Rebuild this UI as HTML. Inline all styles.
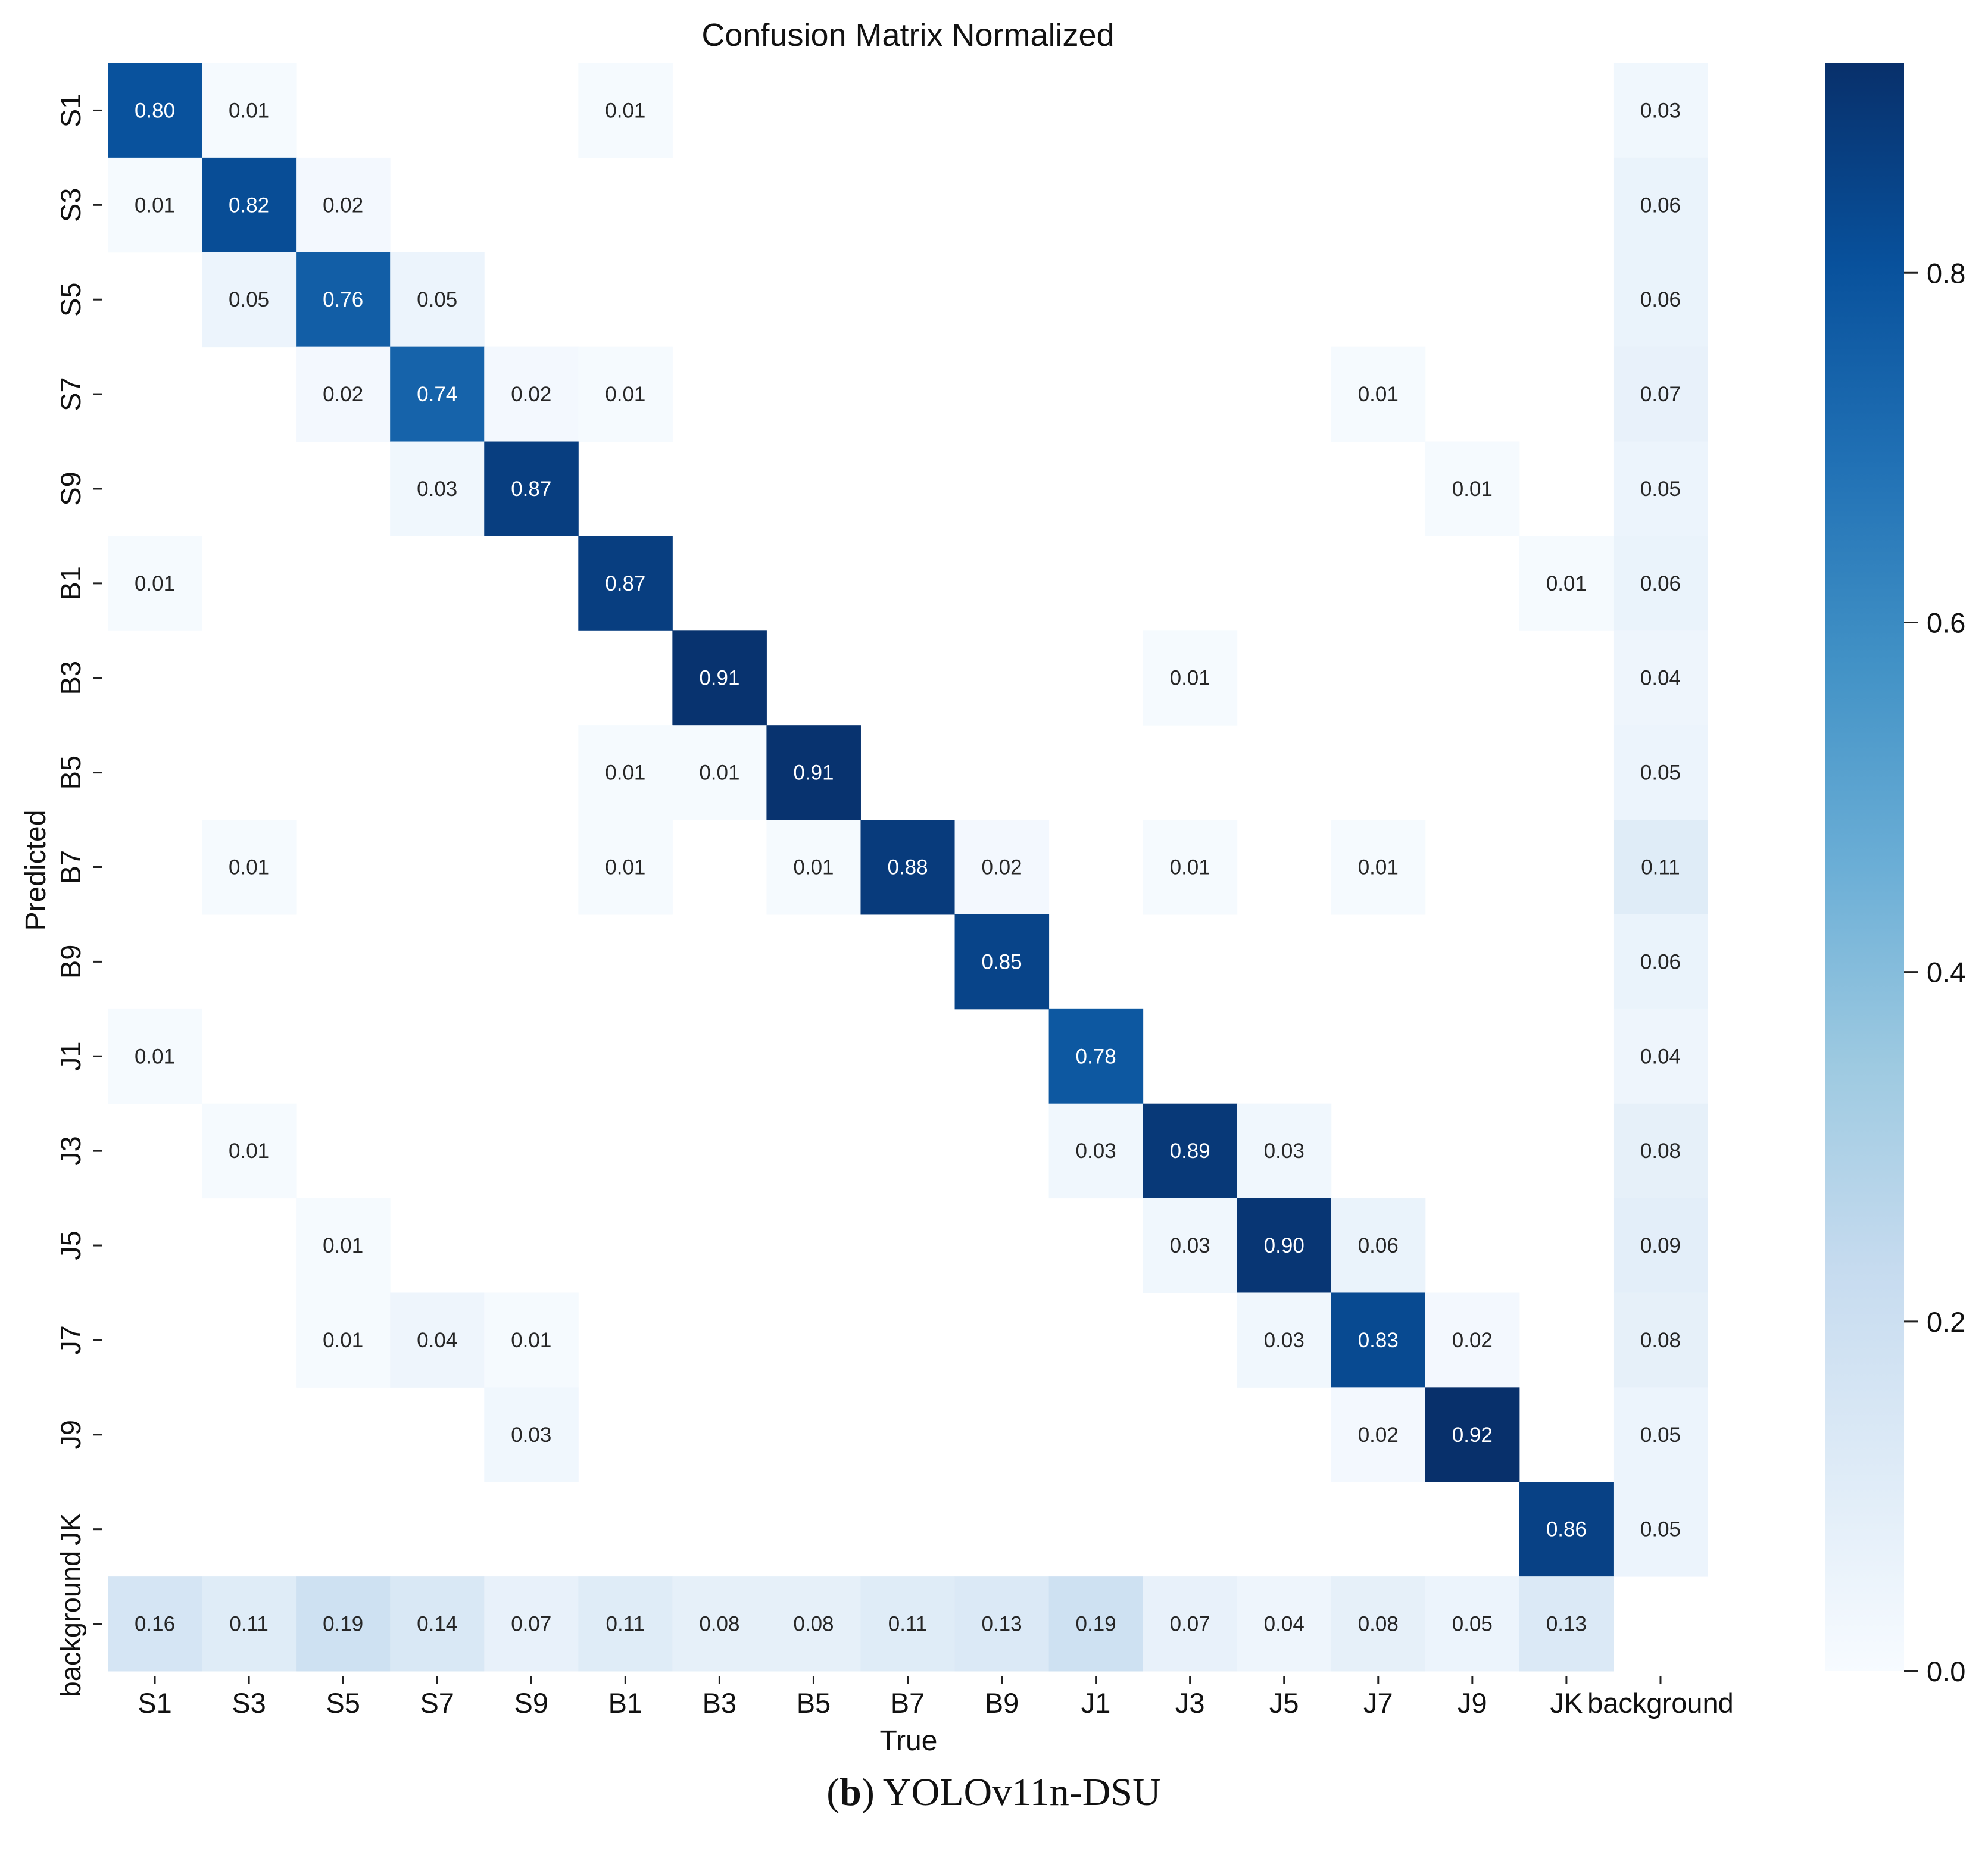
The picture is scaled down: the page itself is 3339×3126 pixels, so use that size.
<!DOCTYPE html>
<html><head><meta charset="utf-8"><style>
html,body{margin:0;padding:0;background:#fff;}
svg{display:block;}
</style></head><body>
<svg id="chart" xmlns="http://www.w3.org/2000/svg" width="3339" height="3126" viewBox="0 0 3339 3126" font-family="'Liberation Sans', Arial, sans-serif">
<rect width="3339" height="3126" fill="#fff"/>
<text x="1525" y="77" font-size="54" text-anchor="middle" fill="#111">Confusion Matrix Normalized</text>
<g id="cells"></g>
<g id="axes"></g>
<g id="cbar"></g>
<text x="1526" y="2940" font-size="48" text-anchor="middle" fill="#111">True</text>
<text transform="translate(76,1462) rotate(-90)" font-size="48" text-anchor="middle" fill="#111">Predicted</text>
<text x="1669" y="3032" font-size="66" text-anchor="middle" font-family="'Liberation Serif', serif" fill="#111">(<tspan font-weight="bold">b</tspan>) YOLOv11n-DSU</text>
</svg>
<script>
const labels = ["S1","S3","S5","S7","S9","B1","B3","B5","B7","B9","J1","J3","J5","J7","J9","JK","background"];
const rowS1 = [0.80,0.01,0,0,0,0.01,0,0,0,0,0,0,0,0,0,0,0.03];
const rowS3 = [0.01,0.82,0.02,0,0,0,0,0,0,0,0,0,0,0,0,0,0.06];
const rowS5 = [0,0.05,0.76,0.05,0,0,0,0,0,0,0,0,0,0,0,0,0.06];
const rowS7 = [0,0,0.02,0.74,0.02,0.01,0,0,0,0,0,0,0,0.01,0,0,0.07];
const rowS9 = [0,0,0,0.03,0.87,0,0,0,0,0,0,0,0,0,0.01,0,0.05];
const rowB1 = [0.01,0,0,0,0,0.87,0,0,0,0,0,0,0,0,0,0.01,0.06];
const rowB3 = [0,0,0,0,0,0,0.91,0,0,0,0,0.01,0,0,0,0,0.04];
const rowB5 = [0,0,0,0,0,0.01,0.01,0.91,0,0,0,0,0,0,0,0,0.05];
const rowB7 = [0,0.01,0,0,0,0.01,0,0.01,0.88,0.02,0,0.01,0,0.01,0,0,0.11];
const rowB9 = [0,0,0,0,0,0,0,0,0,0.85,0,0,0,0,0,0,0.06];
const rowJ1 = [0.01,0,0,0,0,0,0,0,0,0,0.78,0,0,0,0,0,0.04];
const rowJ3 = [0,0.01,0,0,0,0,0,0,0,0,0.03,0.89,0.03,0,0,0,0.08];
const rowJ5 = [0,0,0.01,0,0,0,0,0,0,0,0,0.03,0.90,0.06,0,0,0.09];
const rowJ7 = [0,0,0.01,0.04,0.01,0,0,0,0,0,0,0,0.03,0.83,0.02,0,0.08];
const rowJ9 = [0,0,0,0,0.03,0,0,0,0,0,0,0,0,0.02,0.92,0,0.05];
const rowJK = [0,0,0,0,0,0,0,0,0,0,0,0,0,0,0,0.86,0.05];
const rowBg = [0.16,0.11,0.19,0.14,0.07,0.11,0.08,0.08,0.11,0.13,0.19,0.07,0.04,0.08,0.05,0.13,0];
const matrix = [rowS1,rowS3,rowS5,rowS7,rowS9,rowB1,rowB3,rowB5,rowB7,rowB9,rowJ1,rowJ3,rowJ5,rowJ7,rowJ9,rowJK,rowBg];
const cbarTicks = [0.0,0.2,0.4,0.6,0.8];
const vmax = 0.92;

const NS = "http://www.w3.org/2000/svg";
const X0=181, X1=2868, Y0=106, Y1=2807;
const n = labels.length, cw=(X1-X0)/n, ch=(Y1-Y0)/n;
const xPos = i => X0 + i*cw;
const yPos = j => Y0 + j*ch;
const stops = ["#f7fbff","#deebf7","#c6dbef","#9ecae1","#6baed6","#4292c6","#2171b5","#08519c","#08306b"];
function hex(h){return [1,3,5].map(k=>parseInt(h.substr(k,2),16));}
function cmap(v){
  let t=Math.max(0,Math.min(1,v/vmax))*(stops.length-1);
  let i=Math.min(stops.length-2,Math.floor(t)), f=t-i;
  const a=hex(stops[i]), b=hex(stops[i+1]);
  return "rgb("+a.map((c,k)=>Math.round(c+(b[k]-c)*f)).join(",")+")";
}
function mk(tag, attrs, parent){const e=document.createElementNS(NS,tag);for(const k in attrs)e.setAttribute(k,attrs[k]);parent.appendChild(e);return e;}
const cells=document.getElementById("cells");
matrix.forEach((row,r)=>row.forEach((v,c)=>{
  if(v<=0) return;
  const rect=mk("rect",{x:xPos(c),y:yPos(r),width:cw+0.5,height:ch+0.5,fill:cmap(v)},cells);
  
  
  const t=mk("text",{x:xPos(c)+cw/2,y:yPos(r)+ch/2+12,"font-size":35,"text-anchor":"middle",fill:v>0.46?"#fff":"#262626"},cells);
  t.textContent=v.toFixed(2);
  
  
}));
const axes=document.getElementById("axes");
labels.forEach((l,i)=>{
  const cx=xPos(i)+cw/2;
  mk("line",{x1:cx,x2:cx,y1:Y1+8,y2:Y1+22,stroke:"#222","stroke-width":3},axes);
  const t=mk("text",{x:cx,y:2877,"font-size":47,"text-anchor":"middle",fill:"#111"},axes);
  t.textContent=l;
  
  
  const cy=yPos(i)+ch/2;
  mk("line",{x1:X0-24,x2:X0-10,y1:cy,y2:cy,stroke:"#222","stroke-width":3},axes);
  const ty=mk("text",{transform:`translate(${X0-46},${cy}) rotate(-90)`,"font-size":47,"text-anchor":"middle",fill:"#111"},axes);
  ty.textContent=l;
  
  
});
// colorbar
const cb=document.getElementById("cbar");
const CX0=3066, CX1=3198, CY0=106, CY1=2807;
const defs=mk("defs",{},cb);
const g=mk("linearGradient",{id:"cg",x1:0,y1:1,x2:0,y2:0},defs);
stops.forEach((s,i)=>mk("stop",{offset:i/(stops.length-1),"stop-color":s},g));
mk("rect",{x:CX0,y:CY0,width:CX1-CX0,height:CY1-CY0,fill:"url(#cg)"},cb);
const cbY = v => CY1 - v/vmax*(CY1-CY0);
cbarTicks.forEach(v=>{
  const y=cbY(v);
  mk("line",{x1:CX1,x2:CX1+24,y1:y,y2:y,stroke:"#222","stroke-width":3},cb);
  const t=mk("text",{x:CX1+38,y:y+17,"font-size":47,fill:"#111"},cb);
  t.textContent=v.toFixed(1);
  
  
});
</script>
</body></html>
